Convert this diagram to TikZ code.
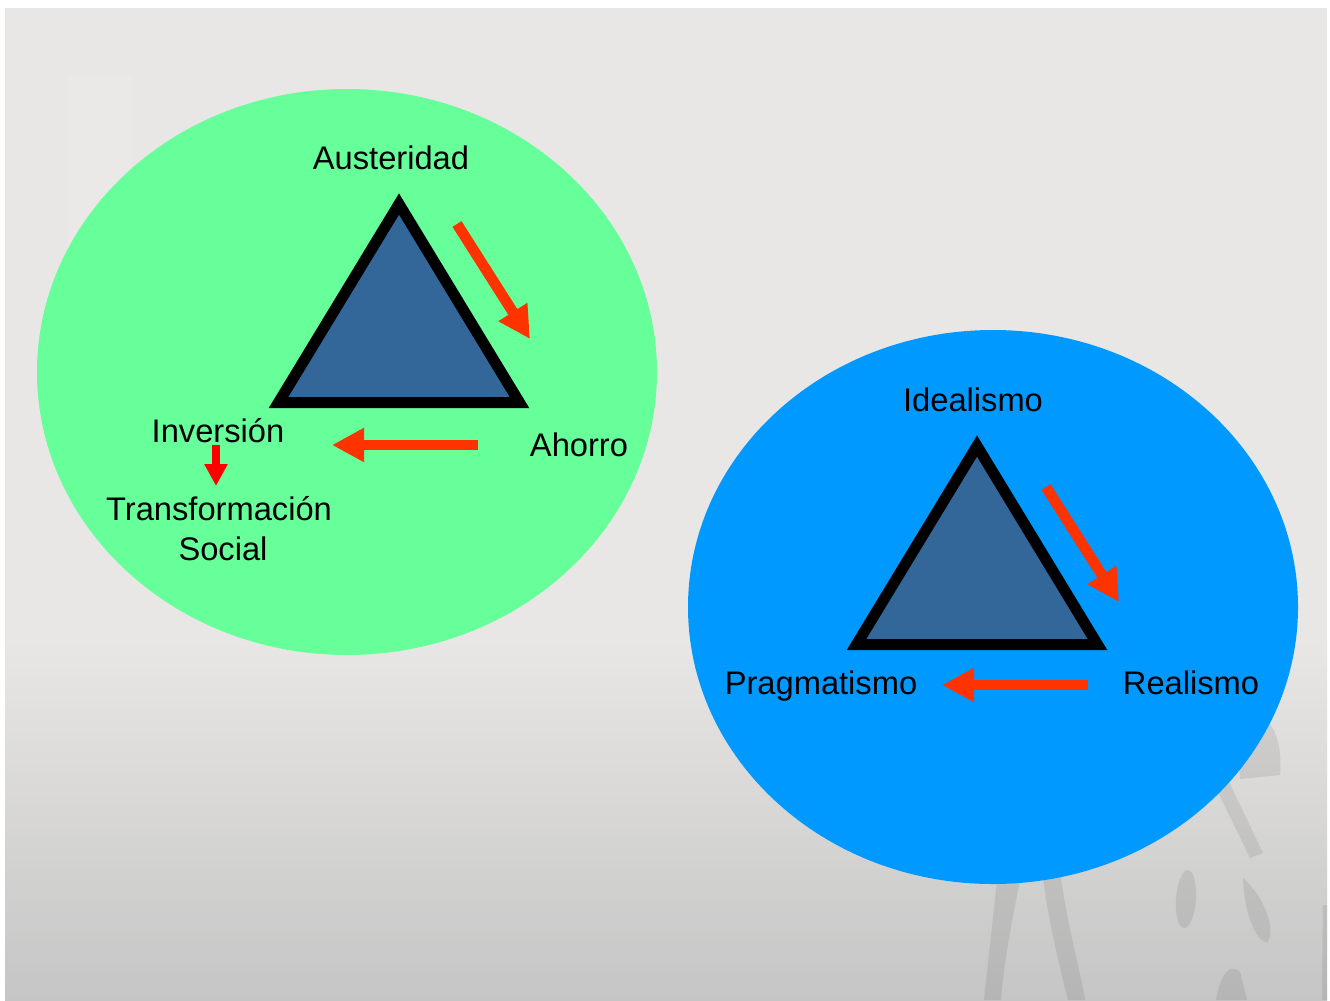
\documentclass[tikz,border=0pt]{standalone}
\usepackage{fontspec}
\setmainfont{Liberation Sans}
\usetikzlibrary{arrows.meta}
\definecolor{bgtop}{HTML}{E8E7E5}
\definecolor{bgbot}{HTML}{C5C5C5}
\definecolor{cgreen}{HTML}{66FF99}
\definecolor{cblue}{HTML}{0099FF}
\definecolor{ctri}{HTML}{336699}
\definecolor{cred}{HTML}{FF3300}

\begin{document}
\begin{tikzpicture}[x=0.75pt, y=-0.75pt,
    lbl/.style={font=\fontsize{24.5}{29}\selectfont, anchor=base, inner sep=0pt},
    tri/.style={draw=black, fill=ctri, line width=8.25pt, miter limit=20},
    bigarrow/.style={draw=cred, line width=8pt, -{Triangle[length=24pt, width=24pt]}},
    smallarrow/.style={draw=red, line width=5.5pt, -{Triangle[length=16.5pt, width=16.5pt]}},
    leaf/.style={fill=black, fill opacity=0.08}]
      \useasboundingbox (0,0) rectangle (1330,1000);
      \fill[white] (0,0) rectangle (1330,1000);
      \fill[bgtop] (5,8) rectangle (1327,1000);
      \shade[top color=bgtop, bottom color=bgbot] (5,640) rectangle (1327,1000);
      \fill[white, opacity=0.1] (68,77) rectangle (132,420);

      \fill[leaf] (1235,720) .. controls (1262,702) and (1284,728) .. (1280,775) -- (1240,779) -- cycle;
      \fill[leaf] (1212,780) -- (1228,780) -- (1263,853) -- (1250,858) -- cycle;
      \fill[leaf, rotate around={-4:(1186,899)}] (1186,899) ellipse (10 and 29);
      \fill[leaf] (1243,878) .. controls (1262,895) and (1276,925) .. (1268,942) .. controls (1258,945) and (1244,915) .. cycle;
      \fill[leaf] (1216,1000) .. controls (1220,975) and (1230,962) .. (1240,972) -- (1247,1000) -- cycle;
      \fill[leaf] (998,870) -- (1022,870) .. controls (1010,930) and (1003,970) .. (1001,1000) -- (984,1000) .. controls (988,960) and (993,920) .. cycle;
      \fill[leaf] (1042,870) -- (1060,870) .. controls (1066,920) and (1078,960) .. (1085,1000) -- (1068,1000) .. controls (1058,960) and (1048,920) .. cycle;
      \fill[leaf] (1323,905) -- (1327,905) -- (1327,1000) -- (1322,1000) -- cycle;

      \fill[cgreen] (347,372) ellipse (310 and 283);
      \fill[cblue] (993,607) ellipse (305 and 277);

      \coordinate (t1a) at (399,204);
      \coordinate (t1b) at (278.5,402.5);
      \coordinate (t1c) at (519.5,402.5);
      \draw[tri] (t1a) -- (t1b) -- (t1c) -- cycle;

      \coordinate (t2a) at (977,446);
      \coordinate (t2b) at (856.5,644.5);
      \coordinate (t2c) at (1097.5,644.5);
      \draw[tri] (t2a) -- (t2b) -- (t2c) -- cycle;

      \node[lbl] (aus) at (391,169) {Austeridad};
      \node[lbl] (aho) at (579,456) {Ahorro};
      \node[lbl] (inv) at (218,442) {Inversión};
      \node[lbl] (trans) at (219,520) {Transformación};
      \node[lbl] (soc) at (223,560) {Social};

      \node[lbl] (ide) at (973,411) {Idealismo};
      \node[lbl] (rea) at (1191,694) {Realismo};
      \node[lbl] (pra) at (821,694) {Pragmatismo};

      \coordinate (g1s) at (457,224);
      \coordinate (g1e) at (530,339);
      \coordinate (g2s) at (478,445);
      \coordinate (g2e) at (332,445);
      \coordinate (g3s) at (216,445);
      \coordinate (g3e) at (216,486);
      \draw[bigarrow] (g1s) -- (g1e);
      \draw[bigarrow] (g2s) -- (g2e);
      \draw[smallarrow] (g3s) -- (g3e);

      \coordinate (b1s) at (1046,487);
      \coordinate (b1e) at (1119,602);
      \coordinate (b2s) at (1088,685);
      \coordinate (b2e) at (942,685);
      \draw[bigarrow] (b1s) -- (b1e);
      \draw[bigarrow] (b2s) -- (b2e);
    \end{tikzpicture}
\end{document}
